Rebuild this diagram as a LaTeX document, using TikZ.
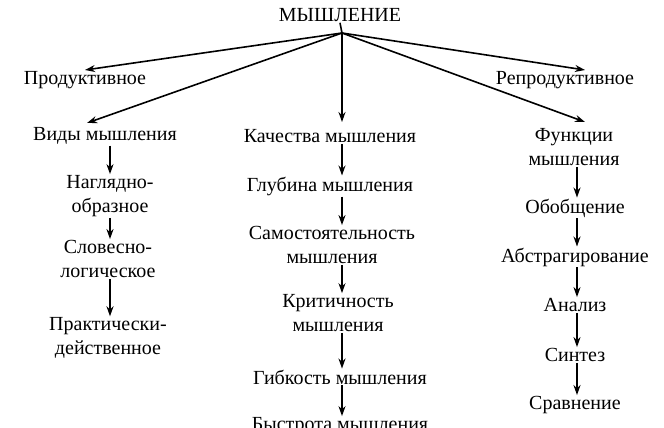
\documentclass[tikz,border=0pt]{standalone}
\usepackage{fontspec}
\setmainfont{Liberation Serif}
\usetikzlibrary{positioning, arrows.meta}
\tikzset{
  lbl/.style={inner sep=1pt, align=center, font=\fontsize{20}{24}\selectfont},
  arr/.style={line width=1.6pt, -{Stealth[length=10pt,width=7pt]}}
}
\begin{document}
\begin{tikzpicture}[x=1pt,y=-1pt]
  \useasboundingbox (0,0) rectangle (664,428);
  \node[lbl] (root) at (340,15) {МЫШЛЕНИЕ};
  \coordinate (top) at (342,33);
  \node[lbl] (prod) at (85,80) {Продуктивное};
  \node[lbl] (repr) at (565,80) {Репродуктивное};
  \node[lbl] (vid) at (105,136) {Виды мышления};
  \node[lbl] (kach) at (330,136) {Качества мышления};
  \node[lbl] (func) at (574,147) {Функции\\мышления};
  % left column
  \node[lbl] (nagl) at (110,196) {Наглядно-\\образное};
  \node[lbl] (slov) at (108,259) {Словесно-\\логическое};
  \node[lbl] (prak) at (108,338) {Практически-\\действенное};
  % middle column
  \node[lbl] (glub) at (330,186) {Глубина мышления};
  \node[lbl] (samo) at (332,245) {Самостоятельность\\мышления};
  \node[lbl] (krit) at (338,313) {Критичность\\мышления};
  \node[lbl] (gibk) at (340,377) {Гибкость мышления};
  \node[lbl] (bystr) at (340,426) {Быстрота мышления};
  % right column
  \node[lbl] (obob) at (575,208) {Обобщение};
  \node[lbl] (abst) at (575,257) {Абстрагирование};
  \node[lbl] (anal) at (575,305) {Анализ};
  \node[lbl] (sint) at (575,355) {Синтез};
  \node[lbl] (srav) at (575,405) {Сравнение};

  \draw[line width=1.6pt] (root.south) -- (top);
  \draw[arr] (top) -- (85,70);
  \draw[arr] (top) -- (87,123);
  \draw[arr] (top) -- (342,122);
  \draw[arr] (top) -- (585,122);
  \draw[arr] (top) -- (585,70);

  \draw[arr] (vid.south -| 110,0) -- (nagl.north -| 110,0);
  \draw[arr] (nagl.south -| 110,0) -- (slov.north -| 110,0);
  \draw[arr] (slov.south -| 110,0) -- (prak.north -| 110,0);

  \draw[arr] (kach.south -| 342,0) -- (glub.north -| 342,0);
  \draw[arr] (glub.south -| 342,0) -- (samo.north -| 342,0);
  \draw[arr] (samo.south -| 342,0) -- (krit.north -| 342,0);
  \draw[arr] (krit.south -| 342,0) -- (gibk.north -| 342,0);
  \draw[arr] (gibk.south -| 342,0) -- (bystr.north -| 342,0);

  \draw[arr] (func.south -| 577,0) -- (obob.north -| 577,0);
  \draw[arr] (obob.south -| 577,0) -- (abst.north -| 577,0);
  \draw[arr] (abst.south -| 577,0) -- (anal.north -| 577,0);
  \draw[arr] (anal.south -| 577,0) -- (sint.north -| 577,0);
  \draw[arr] (sint.south -| 577,0) -- (srav.north -| 577,0);
\end{tikzpicture}
\end{document}
